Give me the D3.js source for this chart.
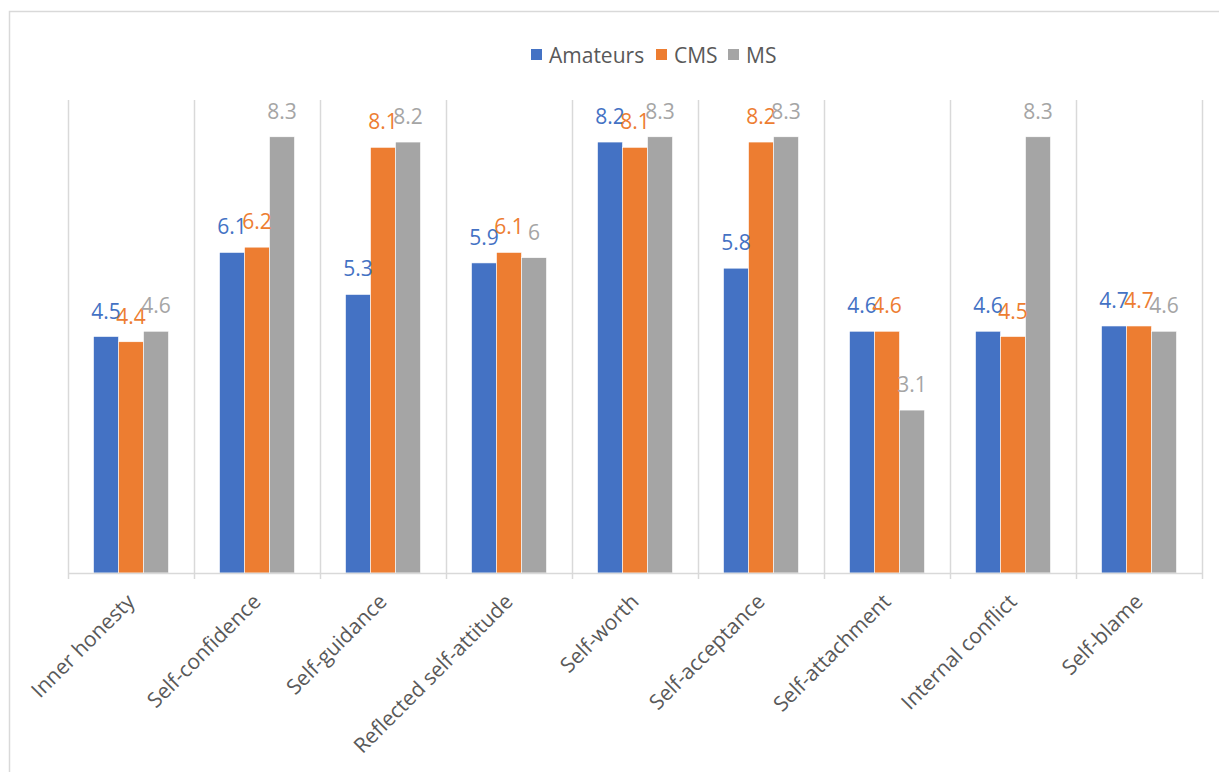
<!DOCTYPE html>
<html>
<head>
<meta charset="utf-8">
<script src="https://cdn.jsdelivr.net/npm/d3@7"></script>
<style>
  html, body { margin: 0; padding: 0; background: #fff; }
  svg { display: block; font-family: "Open Sans", "Noto Sans", sans-serif; }
</style>
</head>
<body>
<svg id="chart" width="1219" height="772"></svg>
<script>
// Dimension names along the x axis
const categories = [
  "Inner honesty", "Self-confidence", "Self-guidance", "Reflected self-attitude",
  "Self-worth", "Self-acceptance", "Self-attachment", "Internal conflict", "Self-blame"
];
// One list of mean scores per group
const seriesNames = ["Amateurs", "CMS", "MS"];
const amateurs = [4.5, 6.1, 5.3, 5.9, 8.2, 5.8, 4.6, 4.6, 4.7];
const cms      = [4.4, 6.2, 8.1, 6.1, 8.1, 8.2, 4.6, 4.5, 4.7];
const ms       = [4.6, 8.3, 8.2, 6,   8.3, 8.3, 3.1, 8.3, 4.6];
const seriesColors = ["#4472C4", "#ED7D31", "#A5A5A5"];

const seriesValues = [amateurs, cms, ms];
const svg = d3.select("#chart");

// Outer chart frame
svg.append("rect")
  .attr("x", 9.5).attr("y", 11.5)
  .attr("width", 1300).attr("height", 900)
  .attr("fill", "none").attr("stroke", "#d9d9d9").attr("stroke-width", 1.5);

const plot = { left: 68, right: 1202, top: 100, bottom: 573 };

const x0 = d3.scaleBand().domain(categories).range([plot.left, plot.right]).padding(0);
const x1 = d3.scaleBand().domain(seriesNames)
  .range([x0.bandwidth() * 0.2024, x0.bandwidth() * 0.7976]).padding(0);
const y = d3.scaleLinear().domain([0, 9]).range([plot.bottom, plot.top]);

// Vertical separators between categories (with tick below the axis)
const edges = categories.map(c => x0(c)).concat([plot.right]);
svg.append("g").selectAll("line").data(edges).join("line")
  .attr("x1", d => d + 0.5).attr("x2", d => d + 0.5)
  .attr("y1", plot.top).attr("y2", plot.bottom + 6)
  .attr("stroke", "#d9d9d9").attr("stroke-width", 1.5);

// Bars
const groups = svg.append("g").selectAll("g").data(categories).join("g")
  .attr("transform", c => `translate(${x0(c)},0)`);

groups.selectAll("rect")
  .data((c, i) => seriesNames.map((s, k) => ({ s, k, v: seriesValues[k][i] })))
  .join("rect")
  .attr("x", d => x1(d.s))
  .attr("width", x1.bandwidth())
  .attr("y", d => y(d.v))
  .attr("height", d => y(0) - y(d.v))
  .attr("fill", d => seriesColors[d.k])
  .attr("stroke", "#ffffff").attr("stroke-width", 0.6);

// Value labels above each bar
groups.selectAll("text")
  .data((c, i) => seriesNames.map((s, k) => ({ s, k, v: seriesValues[k][i] })))
  .join("text")
  .attr("x", d => x1(d.s) + x1.bandwidth() / 2)
  .attr("y", d => y(d.v) - 18)
  .attr("text-anchor", "middle")
  .attr("font-size", 21)
  .attr("fill", d => seriesColors[d.k])
  .text(d => String(d.v));

// Category axis baseline
svg.append("line")
  .attr("x1", plot.left).attr("x2", plot.right + 1)
  .attr("y1", plot.bottom + 0.5).attr("y2", plot.bottom + 0.5)
  .attr("stroke", "#d9d9d9").attr("stroke-width", 1.5);

// Rotated category labels
svg.append("g").selectAll("text").data(categories).join("text")
  .attr("transform", c => `translate(${x0(c) + x0.bandwidth() / 2 + 5},603) rotate(-45)`)
  .attr("text-anchor", "end")
  .attr("font-size", 21)
  .attr("fill", "#595959")
  .text(c => c);

// Legend
const legendItems = [
  { name: "Amateurs", x: 531 },
  { name: "CMS", x: 656 },
  { name: "MS", x: 728 }
];
const legend = svg.append("g").selectAll("g").data(legendItems).join("g")
  .attr("transform", d => `translate(${d.x},49)`);
legend.append("rect").attr("width", 11).attr("height", 11)
  .attr("fill", (d, i) => seriesColors[i]);
legend.append("text").attr("x", 18).attr("y", 14)
  .attr("font-size", 21).attr("fill", "#595959")
  .text(d => d.name);
</script>
</body>
</html>
